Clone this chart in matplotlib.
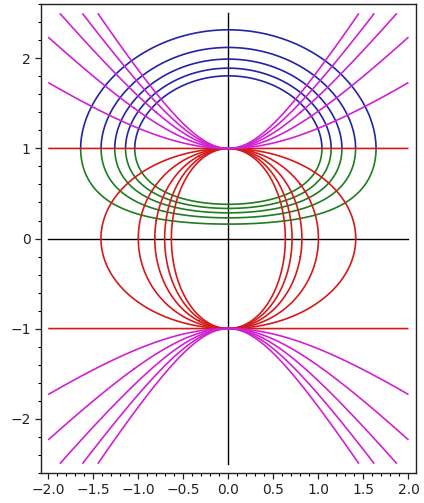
import numpy as np
from matplotlib import pyplot as plt
from matplotlib.ticker import MultipleLocator

# coefficientes c das conicas y^2 + c*x^2 = 1
ellipse_c = [0.5, 1.0, 1.5, 2.0, 2.5]
hyperbola_c = [-0.5, -1.0, -1.5, -2.0, -2.5]
line_c = [0.0]

# niveis das trajetorias ortogonais y^2 * exp(-(x^2 + y^2)) = k
traj_levels = [0.025, 0.05, 0.075, 0.1, 0.125]

x_range = (-2, 2)
y_range = (-2.5, 2.5)

# cores um pouco mais escuras, como aparecem na imagem original
col_red = '#d41a1a'
col_magenta = '#cf22d0'
col_blue = '#2323a8'
col_green = '#1f7d1f'

fig = plt.figure(figsize=(4.24, 5.03), dpi=100)
ax = fig.add_axes([0.0967, 0.0602, 0.8837, 0.9312])

# eixos passando pela origem
ax.plot([0, 0], y_range, color='black', lw=1.0, zorder=1)
ax.plot(x_range, [0, 0], color='black', lw=1.0, zorder=1)

x = np.linspace(x_range[0], x_range[1], 801)
y = np.linspace(y_range[0], y_range[1], 1001)
X, Y = np.meshgrid(x, y)

def conic(c, color):
    ax.contour(X, Y, Y**2 + c * X**2, levels=[1.0], colors=color,
               linewidths=1.2, zorder=3)

for c in ellipse_c + line_c:
    conic(c, col_red)
for c in hyperbola_c:
    conic(c, col_magenta)

# trajetorias: azul acima de y=1, verde abaixo
yb = np.linspace(1.0, y_range[1], 700)
Xb, Yb = np.meshgrid(x, yb)
ax.contour(Xb, Yb, Yb**2 * np.exp(-(Xb**2 + Yb**2)), levels=traj_levels,
           colors=col_blue, linewidths=1.2, zorder=2)

yg = np.linspace(0.01, 1.0, 500)
Xg, Yg = np.meshgrid(x, yg)
ax.contour(Xg, Yg, Yg**2 * np.exp(-(Xg**2 + Yg**2)), levels=traj_levels,
           colors=col_green, linewidths=1.2, zorder=2)

ax.set_xlim(-2.08, 2.08)
ax.set_ylim(-2.6, 2.6)
ax.set_aspect('equal')

ax.xaxis.set_major_locator(MultipleLocator(0.5))
ax.xaxis.set_minor_locator(MultipleLocator(0.1))
ax.yaxis.set_major_locator(MultipleLocator(1))
ax.yaxis.set_minor_locator(MultipleLocator(0.2))
ax.tick_params(which='major', direction='out', length=4, width=0.9,
               labelsize=10, colors='#222222', top=False, right=False)
ax.tick_params(which='minor', direction='out', length=2.5, width=0.8,
               top=False, right=False)
for side in ax.spines.values():
    side.set_linewidth(1.0)
    side.set_color('#222222')

plt.savefig('out.png', dpi=100)
